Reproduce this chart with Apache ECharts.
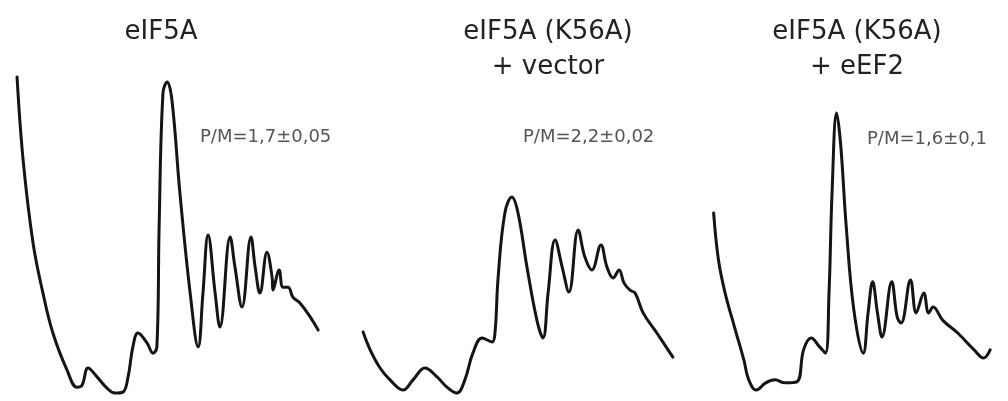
<!DOCTYPE html>
<html>
<head>
<meta charset="utf-8">
<script src="https://cdn.jsdelivr.net/npm/echarts@6/dist/echarts.min.js"></script>
<style>
html,body{margin:0;padding:0;background:#fff;}
#chart{width:1008px;height:401px;}
</style>
</head>
<body>
<div id="chart"></div>
<script>
// Panel titles and P/M ratio labels
var panelTitles = ['eIF5A', 'eIF5A (K56A)\n+ vector', 'eIF5A (K56A)\n+ eEF2'];
var pmLabels = ['P/M=1,7\u00b10,05', 'P/M=2,2\u00b10,02', 'P/M=1,6\u00b10,1'];

// Panel 1: eIF5A  (gradient position, absorbance)
var p1Pos = [2.2,4.1,7.2,10.3,13.4,17.8,20.9,22.5,24.4,27.2,30.3,32.8,35.3,36.9,38.4,40.0,42.8,44.7,45.9,46.6,47.8,49.1,50.6,53.1,56.3,58.8,60.3,61.9,64.1,65.6,68.8,70.3,72.5,75.3,76.6,78.1,80.3,81.9,82.2,84.1,85.3,86.9,88.4,90.6,93.8,96.3];
var p1Abs = [0.979,0.727,0.476,0.324,0.203,0.091,0.039,0.045,0.097,0.070,0.036,0.021,0.024,0.070,0.161,0.203,0.173,0.142,0.161,0.524,0.930,0.964,0.909,0.627,0.324,0.161,0.324,0.500,0.324,0.221,0.494,0.403,0.282,0.494,0.403,0.324,0.448,0.373,0.333,0.394,0.342,0.342,0.312,0.294,0.252,0.212];

// Panel 2: eIF5A (K56A) + vector
var p2Pos = [4.1,6.3,9.4,12.5,16.6,19.7,23.4,27.2,30.3,33.4,35.9,38.4,41.3,44.4,45.3,46.3,48.4,50.6,52.5,55.3,58.4,60.3,61.9,64.1,66.3,68.4,71.3,73.4,75.6,78.4,80.3,82.2,84.1,85.6,87.5,89.1,91.6,95.9,100.9];
var p2Abs = [0.206,0.152,0.097,0.061,0.030,0.061,0.097,0.070,0.039,0.021,0.061,0.142,0.188,0.176,0.203,0.373,0.567,0.615,0.567,0.403,0.242,0.188,0.324,0.485,0.403,0.327,0.515,0.433,0.394,0.470,0.403,0.370,0.394,0.355,0.333,0.324,0.264,0.203,0.130];

// Panel 3: eIF5A (K56A) + eEF2
var p3Pos = [7.8,9.4,11.6,14.7,17.8,19.4,21.9,25.0,28.1,31.3,35.3,37.5,40.0,42.8,44.7,45.9,46.9,48.4,49.7,51.6,54.1,57.2,58.8,60.3,61.9,63.4,66.6,68.4,69.7,72.8,74.7,77.2,78.8,80.3,83.4,88.4,93.8,96.9,99.1];
var p3Abs = [0.567,0.424,0.324,0.221,0.121,0.061,0.030,0.052,0.061,0.052,0.055,0.152,0.188,0.161,0.142,0.324,0.627,0.870,0.779,0.524,0.273,0.142,0.264,0.358,0.264,0.191,0.358,0.252,0.233,0.364,0.264,0.324,0.264,0.282,0.242,0.203,0.152,0.127,0.152];

function pairs(xs, ys){ return xs.map(function(x,i){ return [x, ys[i]]; }); }

var panelsPos = [p1Pos, p2Pos, p3Pos];
var panelsAbs = [p1Abs, p2Abs, p3Abs];
var gridLefts = [10, 350, 690];
var titleCenters = [161, 548, 857];
var pmLefts = [200, 523, 867];
var pmTops = [137, 137, 139];

var grids = [], xAxes = [], yAxes = [], series = [], graphics = [];
for (var i = 0; i < 3; i++) {
  grids.push({left: gridLefts[i], top: 70, width: 336, height: 330});
  xAxes.push({type: 'value', gridIndex: i, min: 0, max: 105, show: false});
  yAxes.push({type: 'value', gridIndex: i, min: 0, max: 1, show: false});
  series.push({
    type: 'line', xAxisIndex: i, yAxisIndex: i,
    data: pairs(panelsPos[i], panelsAbs[i]),
    smooth: 0.4, symbol: 'none', clip: false,
    lineStyle: {color: '#141414', width: 3, join: 'round', cap: 'round'},
    animation: false
  });
  var lines = panelTitles[i].split('\n');
  for (var j = 0; j < lines.length; j++) {
    graphics.push({type: 'text', x: titleCenters[i], y: 32 + j * 35,
      style: {text: lines[j], fill: '#222', font: '26px "DejaVu Sans"', textAlign: 'center', textVerticalAlign: 'middle'}});
  }
  graphics.push({type: 'text', x: pmLefts[i], y: pmTops[i],
    style: {text: pmLabels[i], fill: '#555', font: '18px "DejaVu Sans"', textAlign: 'left', textVerticalAlign: 'middle'}});
}

var chart = echarts.init(document.getElementById('chart'));
chart.setOption({
  backgroundColor: '#ffffff',
  animation: false,
  grid: grids, xAxis: xAxes, yAxis: yAxes, series: series,
  graphic: graphics
});
</script>
</body>
</html>
